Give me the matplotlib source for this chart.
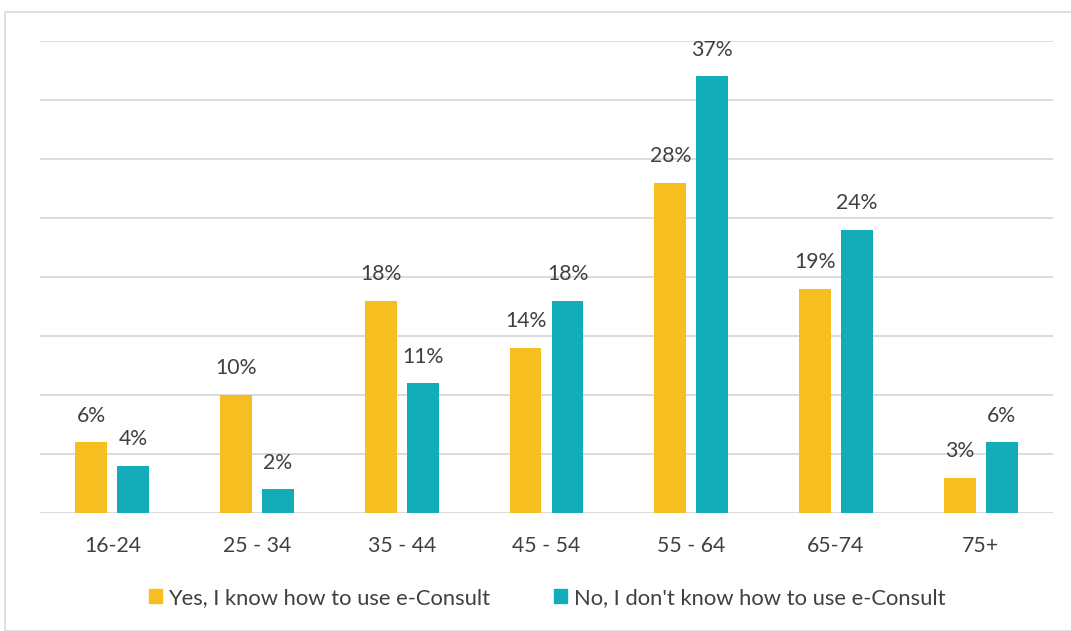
import matplotlib.pyplot as plt
import matplotlib.patches as mpatches
import numpy as np

plt.rcParams['font.family'] = ['Lato', 'DejaVu Sans']

categories = ["16-24", "25 - 34", "35 - 44", "45 - 54", "55 - 64", "65-74", "75+"]
yes_know = [6, 10, 18, 14, 28, 19, 3]
no_know = [4, 2, 11, 18, 37, 24, 6]
series_names = ["Yes, I know how to use e-Consult", "No, I don't know how to use e-Consult"]

yellow = "#F6BE1E"
teal = "#13ADBA"
text_color = "#404040"
grid_color = "#D9D9D9"
fs = 15.3

fig = plt.figure(figsize=(10.71, 6.31), dpi=100)
ax = fig.add_axes([40 / 1071, 1 - 513 / 631, 1013 / 1071, 472 / 631])

x = np.arange(len(categories))
w = 0.22
off = 0.145
b1 = ax.bar(x - off, yes_know, w, color=yellow, zorder=3)
b2 = ax.bar(x + off, no_know, w, color=teal, zorder=3)

for bars, vals in ((b1, yes_know), (b2, no_know)):
    for rect, v in zip(bars, vals):
        ax.annotate(f"{v}%", (rect.get_x() + rect.get_width() / 2, v),
                    xytext=(0, 12), textcoords="offset points",
                    ha="center", va="bottom", fontsize=fs, color=text_color)

ax.set_xlim(-0.5, len(categories) - 0.5)
ax.set_ylim(0, 40)
ax.set_yticks(np.arange(0, 41, 5))
ax.yaxis.grid(True, color=grid_color, linewidth=1.3, zorder=0)
ax.tick_params(axis="y", left=False, labelleft=False)
ax.tick_params(axis="x", bottom=False, pad=13, labelsize=fs, labelcolor=text_color)
ax.set_xticks(x)
ax.set_xticklabels(categories)
for s in ax.spines.values():
    s.set_visible(False)

handles = [mpatches.Patch(color=yellow), mpatches.Patch(color=teal)]
fig.legend(handles, series_names, loc="center", bbox_to_anchor=(547 / 1071, 1 - 598 / 631),
           ncol=2, frameon=False, fontsize=15.8, labelcolor=text_color,
           handlelength=0.6, handleheight=0.6, handletextpad=0.3, columnspacing=2.9)

# light frame around the chart area
fig.patches.append(mpatches.Rectangle((5 / 1071, 0), 1.2, 1 - 12 / 631, transform=fig.transFigure,
                                      fill=False, edgecolor="#D9D9D9", linewidth=1.2))

fig.savefig("out.png", dpi=100, facecolor="white")
